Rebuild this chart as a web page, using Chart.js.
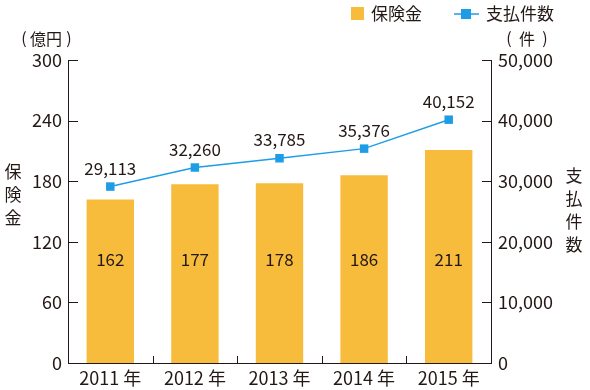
<!DOCTYPE html>
<html>
<head>
<meta charset="utf-8">
<script src="https://cdn.jsdelivr.net/npm/chart.js@4"></script>
<style>
  html, body { margin: 0; padding: 0; background: #fff; }
  #wrap { width: 590px; height: 390px; position: relative; }
</style>
</head>
<body>
<div id="wrap"><canvas id="chart" width="590" height="390"></canvas></div>
<script>
const years = ['2011 年', '2012 年', '2013 年', '2014 年', '2015 年'];
const payouts = [162, 177, 178, 186, 211];           // 保険金 (億円)
const claimCounts = [29113, 32260, 33785, 35376, 40152]; // 支払件数 (件)
const leftTicks = [0, 60, 120, 180, 240, 300];
const rightTicks = [0, 10000, 20000, 30000, 40000, 50000];

const FONT = '"Noto Sans CJK JP", "Noto Sans", sans-serif';
const BAR = '#F7BC3B';
const LINE = '#1E9DE6';

const fmt = v => v.toLocaleString('en-US');

// labels, axis titles, inward ticks and legend
const extras = {
  id: 'extras',
  afterDraw(chart) {
    const ctx = chart.ctx;
    const area = chart.chartArea;
    const yL = chart.scales.y;
    const yR = chart.scales.y2;
    const x = chart.scales.x;
    ctx.save();
    ctx.fillStyle = '#231815';
    ctx.strokeStyle = '#231815';
    ctx.lineWidth = 1;

    // axis box lines and inward ticks
    ctx.beginPath();
    ctx.moveTo(area.left + 0.5, area.top);
    ctx.lineTo(area.left + 0.5, area.bottom + 0.5);
    ctx.lineTo(area.right + 0.5, area.bottom + 0.5);
    ctx.lineTo(area.right + 0.5, area.top);
    leftTicks.forEach(v => {
      const py = Math.round(yL.getPixelForValue(v)) + 0.5;
      ctx.moveTo(area.left, py); ctx.lineTo(area.left + 10, py);
    });
    rightTicks.forEach(v => {
      const py = Math.round(yR.getPixelForValue(v)) + 0.5;
      ctx.moveTo(area.right + 1, py); ctx.lineTo(area.right - 9, py);
    });
    for (let i = 1; i < years.length; i++) {
      const px = Math.round((x.getPixelForValue(i - 1) + x.getPixelForValue(i)) / 2) + 0.5;
      ctx.moveTo(px, area.bottom); ctx.lineTo(px, area.bottom - 7);
    }
    ctx.stroke();

    // bar value labels
    ctx.font = '17px ' + FONT;
    ctx.textAlign = 'center';
    ctx.textBaseline = 'middle';
    const barMeta = chart.getDatasetMeta(0);
    barMeta.data.forEach((el, i) => {
      ctx.fillText(String(payouts[i]), el.x, yL.getPixelForValue(102));
    });

    // line value labels
    const lineMeta = chart.getDatasetMeta(1);
    ctx.textBaseline = 'alphabetic';
    lineMeta.data.forEach((el, i) => {
      ctx.fillText(fmt(claimCounts[i]), el.x, el.y - 12);
    });

    // axis titles
    ctx.font = '16px ' + FONT;
    ctx.textBaseline = 'middle';
    ctx.fillText('(', 24, 38);
    ctx.fillText('億円', 46, 39);
    ctx.fillText(')', 69, 38);
    ctx.fillText('(', 509, 38);
    ctx.fillText('件', 527, 39);
    ctx.fillText(')', 545, 38);
    ctx.font = '17px ' + FONT;
    ['保', '険', '金'].forEach((c, i) => ctx.fillText(c, 13, 172 + i * 23));
    ['支', '払', '件', '数'].forEach((c, i) => ctx.fillText(c, 574, 176 + i * 23));

    // legend
    ctx.textAlign = 'left';
    ctx.fillStyle = BAR;
    ctx.fillRect(351, 7, 13, 13);
    ctx.fillStyle = '#231815';
    ctx.fillText('保険金', 371, 14);
    ctx.strokeStyle = LINE;
    ctx.lineWidth = 1.5;
    ctx.beginPath();
    ctx.moveTo(454, 14); ctx.lineTo(479, 14);
    ctx.stroke();
    ctx.fillStyle = LINE;
    ctx.fillRect(461, 9, 10, 10);
    ctx.fillStyle = '#231815';
    ctx.fillText('支払件数', 486, 14);
    ctx.restore();
  }
};

new Chart(document.getElementById('chart'), {
  data: {
    labels: years,
    datasets: [
      {
        type: 'bar',
        label: '保険金',
        data: payouts,
        backgroundColor: BAR,
        yAxisID: 'y',
        categoryPercentage: 1,
        barPercentage: 0.56,
        order: 2
      },
      {
        type: 'line',
        label: '支払件数',
        data: claimCounts,
        borderColor: LINE,
        backgroundColor: LINE,
        borderWidth: 1.5,
        pointStyle: 'rect',
        pointRadius: 6,
        pointBorderWidth: 0,
        yAxisID: 'y2',
        order: 1
      }
    ]
  },
  options: {
    responsive: false,
    animation: false,
    layout: { padding: { top: 60, left: 0, right: 0, bottom: 0 } },
    plugins: { legend: { display: false }, tooltip: { enabled: false } },
    scales: {
      x: {
        grid: { display: false, drawTicks: false },
        border: { display: false },
        ticks: { color: '#231815', font: { family: FONT, size: 18 }, padding: 4 },
        afterFit(s) { s.height = 27; }
      },
      y: {
        position: 'left',
        min: 0, max: 300,
        afterBuildTicks(s) { s.ticks = leftTicks.map(v => ({ value: v })); },
        grid: { display: false, drawTicks: false },
        border: { display: false },
        ticks: { color: '#231815', font: { family: FONT, size: 18 }, padding: 6 },
        afterFit(s) { s.width = 68; }
      },
      y2: {
        position: 'right',
        min: 0, max: 50000,
        afterBuildTicks(s) { s.ticks = rightTicks.map(v => ({ value: v })); },
        grid: { display: false, drawTicks: false },
        border: { display: false },
        ticks: {
          color: '#231815', font: { family: FONT, size: 18 }, padding: 7,
          callback: v => fmt(v)
        },
        afterFit(s) { s.width = 99; }
      }
    }
  },
  plugins: [extras]
});
</script>
</body>
</html>
